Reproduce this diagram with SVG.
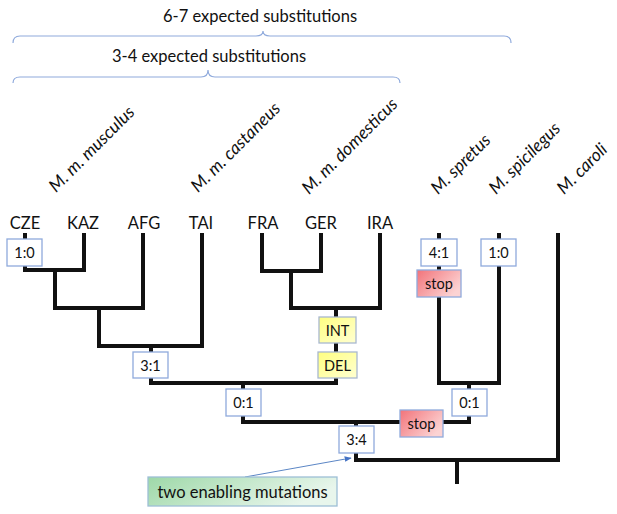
<svg xmlns="http://www.w3.org/2000/svg" width="617" height="514" viewBox="0 0 617 514">
<style>
text{font-family:Lato,"Liberation Sans",sans-serif;fill:#111;}
.lbl{font-size:16.5px;}
.pop{font-size:16.5px;text-anchor:middle;}
.sp{font-size:17.5px;font-style:italic;}
.bt{font-size:14.5px;text-anchor:middle;}
.brace{fill:none;stroke:#8FAADC;stroke-width:1.2;}
.tree{fill:none;stroke:#111;stroke-width:4;stroke-linejoin:miter;stroke-linecap:butt;}
.box{fill:#fff;stroke:#8FAADC;stroke-width:1.3;}
.yel{fill:url(#gy);stroke:#A9B8CF;stroke-width:1.3;}
.red{fill:url(#gr);stroke:#8FAADC;stroke-width:1.3;}
.grn{fill:url(#gg);stroke:#9DBFD6;stroke-width:1.3;}
.arr{stroke:#5B86C5;stroke-width:1;fill:none;}
</style>
<defs>
<linearGradient id="gy" x1="0" y1="0" x2="1" y2="1"><stop offset="0" stop-color="#FFFF80"/><stop offset="1" stop-color="#FFFFD2"/></linearGradient>
<linearGradient id="gr" x1="0" y1="0" x2="1" y2="0.6"><stop offset="0" stop-color="#F2737A"/><stop offset="1" stop-color="#FCD3D3"/></linearGradient>
<linearGradient id="gg" x1="0" y1="0" x2="1" y2="0.3"><stop offset="0" stop-color="#9ED8A8"/><stop offset="1" stop-color="#E8F6EC"/></linearGradient>
<marker id="ah" viewBox="0 0 10 10" refX="9" refY="5" markerWidth="7" markerHeight="7" orient="auto"><path d="M0,1 L10,5 L0,9 z" fill="#4472C4"/></marker>
</defs>

<g id="braces">
<text class="lbl" x="260" y="22" text-anchor="middle">6-7 expected substitutions</text>
<path class="brace" d="M13,43 Q13,36 20,36 L256,36 Q263,36 263,31 Q263,36 270,36 L504,36 Q511,36 511,43"/>
<text class="lbl" x="209" y="62" text-anchor="middle">3-4 expected substitutions</text>
<path class="brace" d="M13,83 Q13,77 20,77 L201,77 Q208,77 208,70 Q208,77 215,77 L393,77 Q400,77 400,83"/>
</g>

<g id="species">
<text class="sp" transform="translate(56,193) rotate(-45)">M. m. musculus</text>
<text class="sp" transform="translate(198,193) rotate(-45)">M. m. castaneus</text>
<text class="sp" transform="translate(309,195) rotate(-45)">M. m. domesticus</text>
<text class="sp" transform="translate(438,195) rotate(-45)">M. spretus</text>
<text class="sp" transform="translate(496,195) rotate(-45)">M. spicilegus</text>
<text class="sp" transform="translate(564,195) rotate(-45)">M. caroli</text>
</g>

<g id="populations">
<text class="pop" x="25" y="229">CZE</text>
<text class="pop" x="83" y="229">KAZ</text>
<text class="pop" x="144" y="229">AFG</text>
<text class="pop" x="201" y="229">TAI</text>
<text class="pop" x="263" y="229">FRA</text>
<text class="pop" x="321" y="229">GER</text>
<text class="pop" x="380" y="229">IRA</text>
</g>

<g id="connectors">
<path class="tree" d="M25,233 V270 H84 V233"/>
<path class="tree" d="M55,270 V308 H143 V233"/>
<path class="tree" d="M99,308 V346 H202 V233"/>
<path class="tree" d="M262,233 V271 H321 V233"/>
<path class="tree" d="M291,271 V308 H380 V233"/>
<path class="tree" d="M151,346 V383 H336 V308"/>
<path class="tree" d="M439,233 V383 H499 V233"/>
<path class="tree" d="M243,383 V422 H469 V383"/>
<path class="tree" d="M356,422 V460 H558 V233"/>
<path class="tree" d="M457,460 V484"/>
<line class="arr" x1="245" y1="477" x2="351" y2="458" marker-end="url(#ah)"/>
</g>

<g id="node-cze"><rect class="box" x="7" y="239" width="35" height="27"/><text class="bt" x="24.5" y="258">1:0</text></g>
<g id="node-spretus"><rect class="box" x="421" y="239" width="36" height="27"/><text class="bt" x="439" y="258">4:1</text></g>
<g id="node-spicilegus"><rect class="box" x="481" y="239" width="35" height="27"/><text class="bt" x="498.5" y="258">1:0</text></g>
<g id="node-stop1"><rect class="red" x="417" y="270" width="44" height="27"/><text class="bt" x="439" y="289">stop</text></g>
<g id="node-int"><rect class="yel" x="319" y="317" width="37" height="26"/><text class="bt" x="337.5" y="335.5">INT</text></g>
<g id="node-del"><rect class="yel" x="318" y="352" width="39" height="26"/><text class="bt" x="337.5" y="370.5">DEL</text></g>
<g id="node-31"><rect class="box" x="133" y="352" width="35" height="26"/><text class="bt" x="150.5" y="370.5">3:1</text></g>
<g id="node-01a"><rect class="box" x="226" y="389" width="35" height="27"/><text class="bt" x="243.5" y="408">0:1</text></g>
<g id="node-01b"><rect class="box" x="452" y="389" width="35" height="27"/><text class="bt" x="469.5" y="408">0:1</text></g>
<g id="node-stop2"><rect class="red" x="400" y="410" width="43" height="27"/><text class="bt" x="421.5" y="429">stop</text></g>
<g id="node-34"><rect class="box" x="339" y="426" width="35" height="27"/><text class="bt" x="356.5" y="445">3:4</text></g>
<g id="note"><rect class="grn" x="148" y="477" width="189" height="29"/><text class="lbl" x="242.5" y="497.5" text-anchor="middle">two enabling mutations</text></g>
</svg>
